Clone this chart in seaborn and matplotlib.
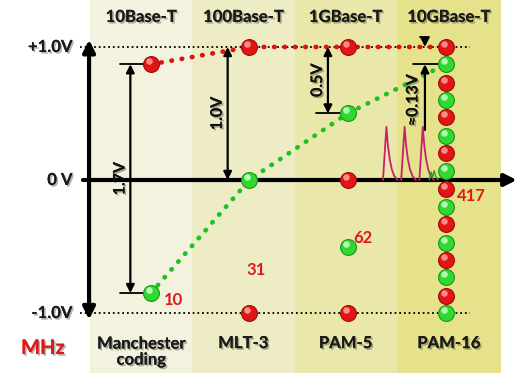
import numpy as np
import pandas as pd
import matplotlib
matplotlib.use("Agg")
import matplotlib.pyplot as plt
import matplotlib.patheffects as pe
from matplotlib.transforms import offset_copy
import seaborn as sns

# column headers / coding names / bandwidth in MHz
standards = ["10Base-T", "100Base-T", "1GBase-T", "10GBase-T"]
codings = ["Manchester\ncoding", "MLT-3", "PAM-5", "PAM-16"]
mhz = [10, 31, 62, 417]

# signal levels (V) for each coding
levels_manchester = [0.87, -0.85]
levels_mlt3 = [1.0, 0.0, -1.0]
levels_pam5 = [1.0, 0.5, 0.0, -0.5, -1.0]
levels_pam16 = [1.0, 0.87, 0.73, 0.6, 0.47, 0.33, 0.2, 0.07,
                -0.07, -0.2, -0.33, -0.47, -0.6, -0.73, -0.87, -1.0]

# top level (red trend) and next level (green trend) per column
top_level = [0.87, 1.0, 1.0, 1.0]
next_level = [-0.85, 0.0, 0.5, 0.87]

# eye-opening annotations: (column x, from V, to V, label)
steps = [(-0.21, 0.87, -0.85, "1.7V"), (0.78, 1.0, 0.0, "1.0V"),
         (1.80, 1.0, 0.5, "0.5V")]

# pulse shape near 10GBase-T (x offset, V)
pulse_dx = [0.0, 0.035, 0.05, 0.07, 0.09, 0.115, 0.15]
pulse_v = [0.0, 0.40, 0.26, 0.15, 0.08, 0.03, 0.0]
pulse_start = [2.36, 2.545, 2.73]
wiggle_dx = [0.0, 0.02, 0.035, 0.05, 0.065, 0.09]
wiggle_v = [0.0, 0.06, 0.02, 0.07, 0.03, 0.0]

rows = []
for i, lv in enumerate([levels_manchester, levels_mlt3, levels_pam5, levels_pam16]):
    for k, v in enumerate(lv):
        rows.append({"col": i, "volt": v, "kind": "hi" if k % 2 == 0 else "lo"})
pts = pd.DataFrame(rows)

sns.set_theme(style="white")
plt.rcParams["font.family"] = ["Lato", "DejaVu Sans"]

fig = plt.figure(figsize=(5.26, 3.87), dpi=100)
ax = fig.add_axes([0, 0, 1, 1])
ax.set_xlim(-1.536, 3.815)
ax.set_ylim(-1.556, 1.353)
ax.axis("off")

shadow = [pe.withSimplePatchShadow(offset=(1.2, -1.2), shadow_rgbFace="#000000", alpha=0.3), pe.Normal()]

# background bands
band_edges = [-0.62, 0.42, 1.46, 2.5, 3.56]
band_cols = ["#f3f2de", "#eeecc4", "#e9e7aa", "#e5e28b"]
for j in range(4):
    ax.axvspan(band_edges[j], band_edges[j + 1], ymin=0.036, ymax=1.0,
               color=band_cols[j], lw=0, zorder=0)

# dotted reference lines at +-1 V
for v in (1.0, -1.0):
    ax.plot([-0.72, 3.25], [v, v], color="black", lw=1.3,
            linestyle=(0, (1, 1.6)), zorder=1)

# trends
sns.lineplot(x=range(4), y=top_level, ax=ax, color="#e01010", lw=3.4,
             linestyle=(0, (0.1, 2.1)), dash_capstyle="round", zorder=2)
sns.lineplot(x=range(4), y=next_level, ax=ax, color="#20c020", lw=3.4,
             linestyle=(0, (0.1, 2.1)), dash_capstyle="round", zorder=2)

# axes arrows
ax.annotate("", xy=(3.75, 0), xytext=(-0.72, 0),
            arrowprops=dict(arrowstyle="-|>", lw=3, color="black", mutation_scale=18), zorder=3)
ax.annotate("", xy=(-0.63, 1.075), xytext=(-0.63, -1.07),
            arrowprops=dict(arrowstyle="<|-|>", lw=3, color="black", mutation_scale=18), zorder=3)

# pulses
for s in pulse_start:
    ax.plot([s + d for d in pulse_dx], pulse_v, color="#c8206e", lw=1.3, zorder=3)
ax.plot([2.83 + d for d in wiggle_dx], wiggle_v, color="#2a9a2a", lw=1.0, zorder=3)

# measurement arrows
for x, v0, v1, lab in steps:
    ax.annotate("", xy=(x, v1), xytext=(x, v0),
                arrowprops=dict(arrowstyle="<|-|>", lw=1.6, color="black",
                                mutation_scale=12, shrinkA=0, shrinkB=0), zorder=4)
    ax.text(x - 0.1, (v0 + v1) / 2, lab, rotation=90, ha="center", va="center",
            fontsize=11.5, fontweight="bold", color="#111111", path_effects=shadow, zorder=5)
ax.plot([-0.315, -0.01], [0.87, 0.87], color="black", lw=1.3, zorder=4)
ax.plot([-0.315, -0.01], [-0.85, -0.85], color="black", lw=1.3, zorder=4)
ax.plot([1.68, 1.97], [0.5, 0.5], color="black", lw=1.3, zorder=4)

# ~0.13V arrow
ax.annotate("", xy=(2.787, 1.0), xytext=(2.787, 1.075),
            arrowprops=dict(arrowstyle="-|>", lw=1.6, color="black",
                            mutation_scale=12, shrinkA=0, shrinkB=0), zorder=4)
ax.plot([2.74, 2.83], [1.075, 1.075], color="black", lw=1.3, zorder=4)
ax.annotate("", xy=(2.787, 0.87), xytext=(2.787, 0.376),
            arrowprops=dict(arrowstyle="-|>", lw=1.6, color="black",
                            mutation_scale=12, shrinkA=0, shrinkB=0), zorder=4)
ax.plot([2.665, 2.94], [0.87, 0.87], color="black", lw=1.3, zorder=4)
ax.text(2.67, 0.6, "\u22480.13V", rotation=90, ha="center", va="center",
        fontsize=11.5, fontweight="bold", color="#111111", path_effects=shadow, zorder=5)

# level markers (spheres)
pal = {"hi": "#e21414", "lo": "#30d830"}
edge = {"hi": "#9a0c0c", "lo": "#1a951a"}
light = {"hi": "#ff8a8a", "lo": "#b4ffb4"}
for kind in ("hi", "lo"):
    sub = pts[pts["kind"] == kind]
    sns.scatterplot(data=sub, x="col", y="volt", ax=ax, color=pal[kind], s=130,
                    edgecolor=edge[kind], linewidth=0.8, zorder=6, legend=False)
    ax.scatter(sub["col"], sub["volt"], s=22, color=light[kind], lw=0, zorder=7,
               transform=offset_copy(ax.transData, fig=fig, x=-2, y=3, units="dots"))

# headers and coding names
for j in range(4):
    xc = (band_edges[j] + band_edges[j + 1]) / 2
    ax.text(xc, 1.226, standards[j], ha="center", va="center", fontsize=12,
            fontweight="bold", color="#1a1a1a", path_effects=shadow)
    ax.text(xc, -1.226 if j else -1.29, codings[j], ha="center", va="center",
            fontsize=12, fontweight="bold", color="#1a1a1a", path_effects=shadow,
            linespacing=1.0)

# y labels
for v, lab in zip([1.0, 0.0, -1.0], ["+1.0V", "0 V", "-1.0V"]):
    ax.text(-0.8, v, lab, ha="right", va="center", fontsize=12,
            fontweight="bold", color="#1a1a1a", path_effects=shadow)
ax.text(-1.10, -1.263, "MHz", ha="center", va="center", fontsize=14.5,
        fontweight="bold", color="#e01818", path_effects=shadow)

# bandwidth labels
mhz_x = [0.224, 1.07, 2.16, 3.255]
mhz_v = [-0.90, -0.68, -0.436, -0.12]
for x, v, m in zip(mhz_x, mhz_v, mhz):
    ax.text(x, v, str(m), ha="center", va="center", fontsize=12,
            fontweight="bold", color="#e01818", zorder=8)

fig.savefig("out.png", dpi=100)
